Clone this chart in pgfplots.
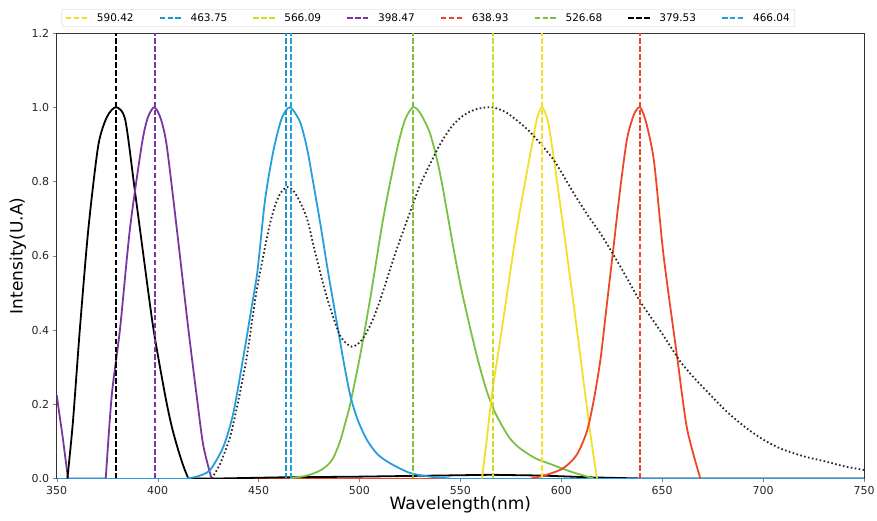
\documentclass[border=0pt]{standalone}
\usepackage{fontspec}
\setmainfont{DejaVu Sans}
\usepackage{pgfplots}
\pgfplotsset{compat=1.18}
\definecolor{cyel}{RGB}{245,222,40}
\definecolor{cyg}{RGB}{205,220,30}
\definecolor{cblue}{RGB}{36,158,222}
\definecolor{cblue2}{RGB}{30,150,205}
\definecolor{cpur}{RGB}{120,55,160}
\definecolor{cred}{RGB}{238,70,38}
\definecolor{cgrn}{RGB}{122,193,66}
\begin{document}
\begin{tikzpicture}
\begin{axis}[
  scale only axis, width=807.3pt, height=445.5pt,
  xmin=350, xmax=750, ymin=0, ymax=1.2,
  xtick={350,400,450,500,550,600,650,700,750},
  ytick={0,0.2,0.4,0.6,0.8,1.0,1.2},
  yticklabel style={/pgf/number format/.cd,fixed,fixed zerofill,precision=1},
  /pgf/number format/assume math mode=true,
  tick label style={font=\fontsize{11}{13}\selectfont, text=black!85},
  tick align=outside, tick pos=left, major tick length=4pt,
  axis line style={black!80, line width=0.8pt},
  xlabel={Wavelength(nm)}, ylabel={Intensity(U.A)},
  label style={font=\fontsize{17}{20}\selectfont},
  x label style={at={(axis description cs:0.5,-0.0595)}, anchor=center},
  y label style={at={(axis description cs:-0.048,0.5)}, anchor=center},
  legend style={at={(rel axis cs:0.0062,1.0141)}, anchor=south west,
    legend columns=8, draw=black!20, rounded corners=2pt,
    font=\fontsize{10.5}{12}\selectfont,
    /tikz/every odd column/.append style={column sep=6pt},
    /tikz/every even column/.append style={column sep=23pt}},
  legend image code/.code={\draw[#1] (0pt,0pt) -- (22pt,0pt);},
  every axis plot/.append style={line width=1.8pt},
  dline/.style={line width=2pt, dash pattern=on 5.5pt off 2.4pt},
  sm/.style={smooth, tension=0.45, forget plot},
  bl/.style={forget plot},
]
% baselines and low parts (straight)
\addplot[cpur, bl] coordinates {(350,0.225) (353,0.11) (355.6,0) (374.3,0)};
\addplot[cpur, bl] coordinates {(426.7,0) (750,0)};
\addplot[cgrn, bl] coordinates {(350,0) (465.6,0)};
\addplot[cgrn, bl] coordinates {(616,0) (750,0)};
\addplot[cyel, bl] coordinates {(350,0) (560.7,0)};
\addplot[cyel, bl] coordinates {(617.7,0) (750,0)};
\addplot[cred, bl] coordinates {(350,0) (585,0)};
\addplot[cred, bl] coordinates {(668.9,0) (750,0)};
\addplot[black, bl] coordinates {(350,0) (355.3,0)};
\addplot[black, bl] coordinates {(415.2,0) (430,0) (460,0.003) (500,0.005) (540,0.008) (565,0.01) (590,0.008) (615,0.003) (640,0) (750,0)};
\addplot[cblue, bl] coordinates {(350,0) (414.5,0)};
\addplot[cblue, bl] coordinates {(545,0) (750,0)};
% peaks (smooth)
\addplot[black, sm] coordinates {(355.3,0) (358,0.15) (361.5,0.404) (365.7,0.673) (370.6,0.897) (375,0.975) (379.5,1.0) (384,0.965) (388.8,0.772) (393,0.6) (397.9,0.404) (403.7,0.225) (407,0.14) (410.3,0.075) (413,0.03) (415.2,0)};
\addplot[cpur, sm] coordinates {(374.3,0) (377.3,0.225) (381.4,0.404) (386.3,0.673) (392.1,0.897) (395,0.97) (398.3,1.0) (401.5,0.97) (404.5,0.897) (409.5,0.673) (415.2,0.404) (419.3,0.225) (422.6,0.09) (426.7,0)};
\addplot[cgrn, sm] coordinates {(465.6,0) (474,0.008) (480,0.02) (484,0.035) (487,0.055) (490.4,0.1) (493,0.15) (495.4,0.2) (500.3,0.33) (505.5,0.49) (511.9,0.704) (518.5,0.884) (522.5,0.965) (526.5,1.0) (530,0.985) (535,0.929) (540,0.82) (546.6,0.62) (550.5,0.51) (554.9,0.404) (558.9,0.315) (563.1,0.235) (567,0.18) (571.4,0.135) (575,0.105) (579.6,0.081) (587,0.055) (596.1,0.036) (605,0.018) (616,0)};
\addplot[cyel, sm] coordinates {(560.7,0) (563,0.1) (565.6,0.225) (570.6,0.404) (578,0.673) (585.4,0.897) (588,0.97) (590.4,1.0) (593,0.97) (595.4,0.897) (601.1,0.673) (607.7,0.404) (611.9,0.225) (615.2,0.09) (617.7,0)};
\addplot[cred, sm] coordinates {(585,0) (592.8,0.01) (601.1,0.028) (607.7,0.064) (612.7,0.127) (616,0.208) (619.4,0.32) (622.4,0.46) (625.6,0.61) (629.2,0.78) (632.6,0.915) (636,0.98) (639,1.0) (642,0.96) (646,0.852) (650.7,0.6) (657.3,0.332) (662.3,0.135) (668.9,0)};
\addplot[cblue, sm] coordinates {(414.5,0) (420,0.006) (426,0.023) (432.6,0.086) (437.5,0.176) (442.5,0.328) (446.6,0.462) (449.5,0.56) (453.2,0.749) (457.4,0.884) (461.5,0.97) (465.6,1.0) (470.6,0.96) (474,0.89) (477,0.8) (480.5,0.69) (484.5,0.555) (488.8,0.42) (492,0.32) (495.4,0.225) (499,0.16) (503.7,0.104) (509,0.065) (515.2,0.041) (525,0.015) (535,0.005) (545,0)};
\addplot[black!85, sm, dash pattern=on 1.6pt off 2.4pt] coordinates {(426.8,0) (431,0.04) (435.9,0.112) (440,0.21) (444.2,0.328) (449.1,0.507) (455.7,0.687) (460,0.76) (464,0.785) (468,0.77) (473.8,0.704) (478,0.61) (483.8,0.489) (490.4,0.385) (496.2,0.355) (501.2,0.373) (506,0.42) (510.2,0.48) (518,0.61) (526,0.731) (530,0.79) (536.7,0.866) (541,0.91) (546,0.95) (551.5,0.978) (558,0.995) (565.6,1.0) (573,0.985) (582.9,0.942) (590,0.9) (597,0.852) (606,0.77) (613,0.71) (619.4,0.66) (625.6,0.605) (632,0.545) (639.2,0.476) (650,0.39) (659,0.315) (666,0.27) (673.9,0.225) (682,0.18) (691.9,0.135) (700,0.105) (708.5,0.081) (720,0.06) (731.6,0.045) (740,0.033) (750,0.023)};
% dashed lines
\addplot[cyel, dline] coordinates {(590.42,0) (590.42,1.2)};
\addlegendentry{590.42}
\addplot[cblue2, dline] coordinates {(463.75,0) (463.75,1.2)};
\addlegendentry{463.75}
\addplot[cyg, dline] coordinates {(566.09,0) (566.09,1.2)};
\addlegendentry{566.09}
\addplot[cpur, dline] coordinates {(398.47,0) (398.47,1.2)};
\addlegendentry{398.47}
\addplot[cred, dline] coordinates {(638.93,0) (638.93,1.2)};
\addlegendentry{638.93}
\addplot[cgrn, dline] coordinates {(526.68,0) (526.68,1.2)};
\addlegendentry{526.68}
\addplot[black, dline] coordinates {(379.53,0) (379.53,1.2)};
\addlegendentry{379.53}
\addplot[cblue, dline] coordinates {(466.04,0) (466.04,1.2)};
\addlegendentry{466.04}
\end{axis}
\pgfresetboundingbox
\useasboundingbox (-56.7pt,-42.5pt) rectangle (820.3pt,478.5pt);
\end{tikzpicture}
\end{document}
